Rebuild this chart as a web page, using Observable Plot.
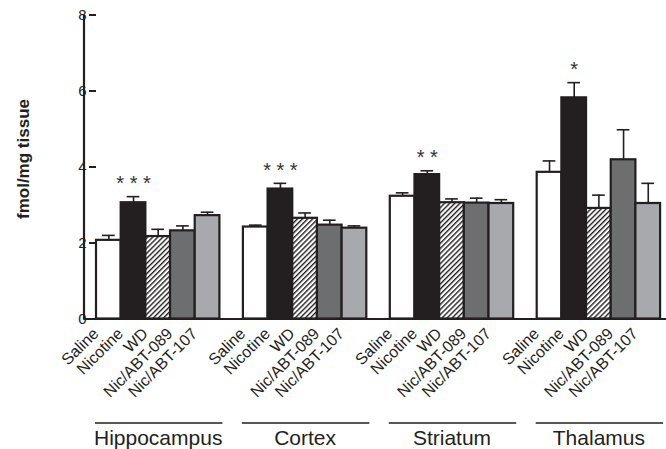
<!DOCTYPE html>
<html><head><meta charset="utf-8">
<script src="https://cdn.jsdelivr.net/npm/d3@7"></script>
<script src="https://cdn.jsdelivr.net/npm/@observablehq/plot@0.6"></script>
<style>
body{margin:0;background:#fff;}
#chart svg{display:block;}
</style>
</head><body>
<div id="chart"></div>
<script>
const regions = ["Hippocampus", "Cortex", "Striatum", "Thalamus"];
const treatments = ["Saline", "Nicotine", "WD", "Nic/ABT-089", "Nic/ABT-107"];
const hippocampusMean = [2.07, 3.06, 2.17, 2.32, 2.72];
const hippocampusSem  = [0.13, 0.16, 0.19, 0.13, 0.09];
const cortexMean      = [2.42, 3.42, 2.65, 2.47, 2.39];
const cortexSem       = [0.05, 0.15, 0.14, 0.13, 0.06];
const striatumMean    = [3.23, 3.80, 3.06, 3.05, 3.04];
const striatumSem     = [0.09, 0.10, 0.10, 0.13, 0.10];
const thalamusMean    = [3.86, 5.82, 2.91, 4.19, 3.04];
const thalamusSem     = [0.30, 0.40, 0.35, 0.79, 0.53];
const significance    = ["* * *", "* * *", "* *", "*"];
const yTicks = [0, 2, 4, 6, 8];
const yLabel = "fmol/mg tissue";
const fills = ["#ffffff", "#231f20", "url(#hatch)", "#6d6e70", "#a7a9ac"];

const means = [hippocampusMean, cortexMean, striatumMean, thalamusMean];
const sems = [hippocampusSem, cortexSem, striatumSem, thalamusSem];
const rows = [];
regions.forEach((r, i) => treatments.forEach((t, j) => rows.push({region: r, treatment: t, mean: means[i][j], sem: sems[i][j]})));
const starRows = regions.map((r, i) => ({region: r, treatment: treatments[1], top: means[i][1] + sems[i][1], label: significance[i]}));

const ink = "#231f20";
const chart = Plot.plot({
  width: 666, height: 449,
  marginLeft: 84, marginRight: 0, marginTop: 14.5, marginBottom: 130.5,
  style: {fontFamily: "'Liberation Sans', Arial, sans-serif", fontSize: "14px", color: ink, background: "white"},
  fx: {domain: regions, paddingInner: 0.16, paddingOuter: 0.061, align: 0.67, round: false, axis: null, label: null},
  x: {domain: treatments, padding: 0, round: false},
  y: {domain: [0, 8]},
  color: {domain: treatments, range: fills},
  marks: [
    Plot.barY(rows, {fx: "region", x: "treatment", y: "mean", fill: "treatment", stroke: ink, strokeWidth: 2.2}),
    Plot.ruleX(rows, {fx: "region", x: "treatment", y1: "mean", y2: d => d.mean + d.sem, stroke: ink, strokeWidth: 1.6}),
    Plot.tickY(rows, {fx: "region", x: "treatment", y: d => d.mean + d.sem, stroke: ink, strokeWidth: 1.6, inset: 6}),
    Plot.text(starRows, {fx: "region", x: "treatment", y: "top", text: "label", dy: -13, fontSize: 20, fill: "#333"}),
    Plot.ruleY([0], {stroke: ink, strokeWidth: 2.2, insetLeft: -12.5, insetRight: -12.5}),
    Plot.ruleY([0], {stroke: ink, strokeWidth: 1.6, dy: 104, insetLeft: -1, insetRight: -3}),
    Plot.text(regions, {fx: d => d, text: d => d, frameAnchor: "bottom", dy: 126, fontSize: 21, fill: ink}),
    Plot.axisX({tickRotate: -45, tickSize: 0, tickPadding: 4, dx: -13, dy: 8, label: null}),
    Plot.axisY(yTicks, {tickSize: 7, tickPadding: 3, label: yLabel, labelAnchor: "center", labelOffset: 80, labelArrow: false, strokeWidth: 2})
  ]
});

const svg = d3.select(chart.tagName.toLowerCase() === "svg" ? chart : chart.querySelector("svg"));
const defs = svg.insert("defs", ":first-child");
const pat = defs.append("pattern").attr("id", "hatch").attr("patternUnits", "userSpaceOnUse")
  .attr("width", 3.6).attr("height", 3.6).attr("patternTransform", "rotate(45)");
pat.append("rect").attr("width", 3.6).attr("height", 3.6).attr("fill", "white");
pat.append("line").attr("x1", 0.7).attr("y1", 0).attr("x2", 0.7).attr("y2", 3.6).attr("stroke", ink).attr("stroke-width", 1.4);

const y = chart.scale("y");
svg.append("line").attr("x1", 84).attr("x2", 84).attr("y1", y.apply(0) + 1.1).attr("y2", y.apply(8))
  .attr("stroke", ink).attr("stroke-width", 2.2);
svg.selectAll("g[aria-label='y-axis label'] text").each(function() {
  const t = this.getAttribute("transform") || "";
  this.setAttribute("transform", t + " translate(8,0)");
}).style("font-size", "17px").style("font-weight", "bold");
svg.selectAll("g[aria-label='x-axis tick label'] text").style("font-size", "16px");
svg.selectAll("g[aria-label='y-axis tick label'] text").style("font-size", "15px");
document.getElementById("chart").appendChild(chart);
</script>
</body></html>
